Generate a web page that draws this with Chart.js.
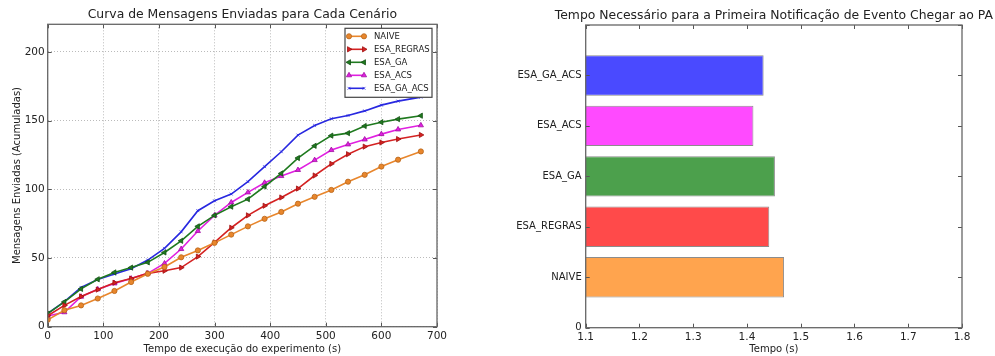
<!DOCTYPE html>
<html><head><meta charset="utf-8">
<script src="https://cdn.jsdelivr.net/npm/chart.js@4.4.1/dist/chart.umd.min.js"></script>
<style>
html,body{margin:0;padding:0;background:#fff;}
#wrap{position:relative;width:995px;height:356px;overflow:hidden;background:#fff;}
#leftBox{position:absolute;left:0;top:0;width:490px;height:356px;}
#rightBox{position:absolute;left:490px;top:0;width:505px;height:356px;}
</style></head><body>
<div id="wrap"><div id="leftBox"><canvas id="c1"></canvas></div><div id="rightBox"><canvas id="c2"></canvas></div></div>
<script>
// ---- data: left chart (cumulative messages) ----
const times = [0,30,60,90,120,150,180,210,240,270,300,330,360,390,420,450,480,510,540,570,600,630,671];
const naive  = [5,12,15.5,20.5,26,32.5,38.5,43.5,50.5,55.5,61,67,73,78.5,83.5,89.5,94.5,99.5,105.5,110.5,116.5,121.5,127.5];
const regras = [8,15.5,22,27,32,35,38.8,40.7,43,51,61.3,72,81,88,94,100.5,110,118.5,125.5,131,134,136.5,139.5];
const ga     = [9.5,18,27.5,34.5,39.5,43,46.8,54,62.5,73,81,87.3,92.8,102,111.5,122.7,131.6,139,140.8,146,148.8,151,153.5];
const acs    = [7.8,10.5,21.8,27.2,31.5,35,38.8,46,56.5,69.6,81,90.4,97.7,104.7,109.6,114,121.2,128.5,132.6,136.2,140.1,143.5,146.5];
const gaacs  = [9.7,18.2,28.6,34.4,38.3,42.2,48.5,57,69,84.4,91.6,96.5,105.5,116.4,127.3,139.4,146.4,151.3,153.7,157,161.2,164.1,167];
const seriesNames = ['NAIVE','ESA_REGRAS','ESA_GA','ESA_ACS','ESA_GA_ACS'];
const xTicksLeft = [0,100,200,300,400,500,600,700];
const yTicksLeft = [0,50,100,150,200];

// ---- data: right chart (time to first notification) ----
const barLabels = ['NAIVE','ESA_REGRAS','ESA_GA','ESA_ACS','ESA_GA_ACS'];
const barTimes  = [1.469,1.4415,1.452,1.412,1.431];
const yTickLabelsRight = ['0','NAIVE','ESA_REGRAS','ESA_GA','ESA_ACS','ESA_GA_ACS',''];
const xTicksRight = ['1.1','1.2','1.3','1.4','1.5','1.6','1.7','1.8'];

Chart.defaults.font.family = "'DejaVu Sans', sans-serif";
Chart.defaults.color = '#222';
Chart.defaults.animation = false;

const FONT = "'DejaVu Sans', sans-serif";

const topTitle = {
  id: 'topTitle',
  afterDraw(chart, args, o) {
    const {ctx, chartArea: a} = chart;
    ctx.save();
    ctx.font = o.size + 'px ' + FONT;
    ctx.fillStyle = '#222';
    ctx.textAlign = 'center';
    ctx.textBaseline = 'middle';
    ctx.fillText(o.text, (a.left + a.right) / 2 + (o.dx || 0), o.y);
    ctx.restore();
  }
};

const frameTicks = {
  id: 'frameTicks',
  afterDatasetsDraw(chart, args, o) {
    const {ctx, chartArea: a, scales} = chart;
    const L = 4;
    ctx.save();
    ctx.strokeStyle = '#555';
    ctx.lineWidth = 1;
    ctx.beginPath();
    scales.x.ticks.forEach(t => {
      const px = Math.round(scales.x.getPixelForValue(t.value)) + 0.5;
      ctx.moveTo(px, a.bottom); ctx.lineTo(px, a.bottom - L);
      ctx.moveTo(px, a.top); ctx.lineTo(px, a.top + L);
    });
    scales.y.ticks.forEach(t => {
      const py = Math.round(scales.y.getPixelForValue(t.value)) + 0.5;
      ctx.moveTo(a.left, py); ctx.lineTo(a.left + L, py);
      ctx.moveTo(a.right, py); ctx.lineTo(a.right - L, py);
    });
    ctx.stroke();
    ctx.strokeStyle = '#666';
    ctx.lineWidth = 1.3;
    ctx.strokeRect(a.left, a.top, a.right - a.left, a.bottom - a.top);
    ctx.restore();
  }
};

function drawMarker(ctx, ds, x, y) {
  if (Chart.helpers && Chart.helpers.drawPoint) {
    ctx.fillStyle = ds.pointBackgroundColor;
    ctx.strokeStyle = ds.pointBorderColor;
    ctx.lineWidth = ds.pointBorderWidth;
    Chart.helpers.drawPoint(ctx, {pointStyle: ds.pointStyle, rotation: ds.pointRotation || 0, radius: ds.pointRadius, borderWidth: ds.pointBorderWidth}, x, y);
  }
}

const boxLegend = {
  id: 'boxLegend',
  afterDraw(chart) {
    const {ctx, chartArea: a} = chart;
    const w = 87, rowH = 13, h = 69;
    const left = a.right - 5 - w, top = a.top + 4;
    ctx.save();
    ctx.fillStyle = '#fff';
    ctx.fillRect(left, top, w, h);
    ctx.strokeStyle = '#444';
    ctx.lineWidth = 1.2;
    ctx.strokeRect(left, top, w, h);
    ctx.font = '8.5px ' + FONT;
    ctx.textBaseline = 'middle';
    ctx.textAlign = 'left';
    chart.data.datasets.forEach((ds, i) => {
      const y = top + 8 + i * rowH;
      const x1 = left + 4, x2 = left + 19;
      ctx.strokeStyle = ds.borderColor;
      ctx.lineWidth = ds.borderWidth;
      ctx.beginPath(); ctx.moveTo(x1, y); ctx.lineTo(x2, y); ctx.stroke();
      drawMarker(ctx, ds, x1, y);
      drawMarker(ctx, ds, x2, y);
      ctx.fillStyle = '#222';
      ctx.fillText(ds.label, left + 29, y + 0.5);
    });
    ctx.restore();
  }
};

function mk(vals) { return times.map((t, i) => ({x: t, y: vals[i]})); }

const lineStyles = [
  {c: '#e8862c', e: '#b8661a', s: 'circle', r: 2.6, rot: 0},
  {c: '#d42222', e: '#a01010', s: 'triangle', r: 3, rot: 90},
  {c: '#1f7a1f', e: '#145014', s: 'triangle', r: 3, rot: -90},
  {c: '#e020e0', e: '#a010a0', s: 'triangle', r: 3, rot: 0},
  {c: '#2828e0', e: '#2828e0', s: 'crossRot', r: 2, rot: 0}
];
const seriesData = [naive, regras, ga, acs, gaacs];

new Chart(document.getElementById('c1'), {
  type: 'line',
  data: {
    datasets: seriesNames.map((n, i) => ({
      label: n,
      data: mk(seriesData[i]),
      borderColor: lineStyles[i].c,
      backgroundColor: lineStyles[i].c,
      borderWidth: 1.6,
      pointStyle: lineStyles[i].s,
      pointRotation: lineStyles[i].rot,
      pointRadius: lineStyles[i].r,
      pointBackgroundColor: lineStyles[i].c,
      pointBorderColor: lineStyles[i].e,
      pointBorderWidth: 0.8,
      tension: 0,
      fill: false
    }))
  },
  options: {
    responsive: true, maintainAspectRatio: false, animation: false,
    layout: {padding: {left: 0, right: 53, top: 24.3, bottom: 0}},
    plugins: {
      legend: {display: false}, tooltip: {enabled: false},
      topTitle: {text: 'Curva de Mensagens Enviadas para Cada Cenário', y: 15, size: 12.4}
    },
    scales: {
      x: {
        type: 'linear', min: 0, max: 700,
        afterBuildTicks: s => { s.ticks = xTicksLeft.map(v => ({value: v})); },
        afterFit: s => { s.height = 29.3; },
        ticks: {font: {size: 10.5}, padding: 3, maxRotation: 0, color: '#222'},
        grid: {color: '#aaa', borderDash: [1, 2], drawTicks: false, lineWidth: 0.8},
        border: {display: false, dash: [1, 2]},
        title: {display: true, text: 'Tempo de execução do experimento (s)', font: {size: 10}, padding: {top: 0, bottom: 1}, color: '#222'}
      },
      y: {
        type: 'linear', min: 0, max: 220,
        afterBuildTicks: s => { s.ticks = yTicksLeft.map(v => ({value: v})); },
        afterFit: s => { s.width = 47.7; },
        ticks: {font: {size: 10.5}, padding: 3, color: '#222'},
        grid: {color: '#aaa', borderDash: [1, 2], drawTicks: false, lineWidth: 0.8},
        border: {display: false, dash: [1, 2]},
        title: {display: true, text: 'Mensagens Enviadas (Acumuladas)', font: {size: 10}, padding: {top: 11, bottom: 0}, color: '#222'}
      }
    }
  },
  plugins: [frameTicks, boxLegend, topTitle]
});

const barColors = ['#ffa44e', '#ff4a4a', '#4ca04c', '#ff4aff', '#4a4aff'];

new Chart(document.getElementById('c2'), {
  type: 'bar',
  data: {
    datasets: [{
      data: barLabels.map((l, i) => ({x: barTimes[i], y: i + 1})),
      backgroundColor: barColors,
      borderColor: 'rgba(0,0,0,0.45)',
      borderWidth: 1,
      barPercentage: 0.8,
      categoryPercentage: 1.0,
      borderSkipped: false
    }]
  },
  options: {
    indexAxis: 'y',
    responsive: true, maintainAspectRatio: false, animation: false,
    layout: {padding: {left: 0, right: 33, top: 25, bottom: 0}},
    plugins: {
      legend: {display: false}, tooltip: {enabled: false},
      topTitle: {text: 'Tempo Necessário para a Primeira Notificação de Evento Chegar ao PA', y: 15.5, size: 12.4}
    },
    scales: {
      x: {
        type: 'linear', min: 1.1, max: 1.8, offset: false,
        afterBuildTicks: s => { s.ticks = xTicksRight.map(v => ({value: parseFloat(v)})); },
        afterFit: s => { s.height = 28.3; },
        ticks: {font: {size: 10.5}, padding: 3, maxRotation: 0, color: '#222', callback: v => v.toFixed(1)},
        grid: {display: false, drawTicks: false},
        border: {display: false},
        title: {display: true, text: 'Tempo (s)', font: {size: 10}, padding: {top: 0, bottom: 1}, color: '#222'}
      },
      y: {
        type: 'linear', min: 0, max: 6, offset: false,
        afterBuildTicks: s => { s.ticks = yTickLabelsRight.map((l, i) => ({value: i})); },
        afterFit: s => { s.width = 95.7; },
        ticks: {font: {size: 10}, padding: 4, color: '#222', callback: v => yTickLabelsRight[v]},
        grid: {display: false, drawTicks: false},
        border: {display: false}
      }
    }
  },
  plugins: [frameTicks, topTitle]
});
</script>
</body></html>
